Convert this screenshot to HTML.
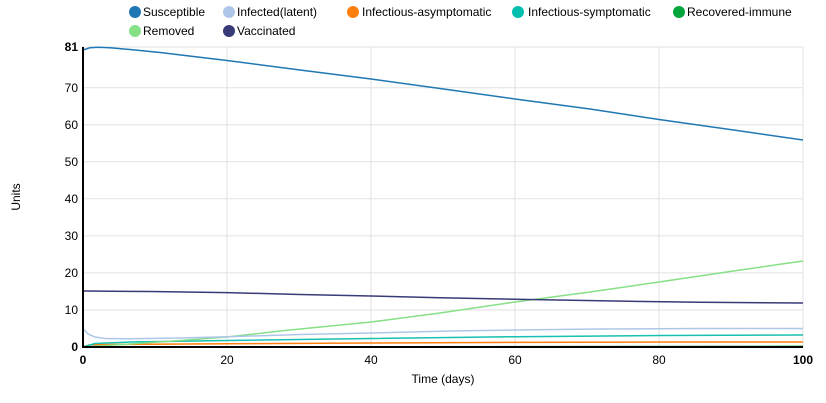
<!DOCTYPE html>
<html><head><style>body{margin:0;background:#fff}svg{display:block;font-family:"Liberation Sans",Arial,sans-serif}</style></head><body>
<svg width="826" height="403" viewBox="0 0 826 403">
<g font-size="12" fill="#000">
<circle cx="135" cy="12" r="6" fill="#1f77b4"/><text x="143" y="16">Susceptible</text>
<circle cx="229" cy="12" r="6" fill="#aec7e8"/><text x="237" y="16">Infected(latent)</text>
<circle cx="353" cy="12" r="6" fill="#ff7f0e"/><text x="362" y="16">Infectious-asymptomatic</text>
<circle cx="518" cy="12" r="6" fill="#00bfad"/><text x="528" y="16">Infectious-symptomatic</text>
<circle cx="679" cy="12" r="6" fill="#00a63c"/><text x="687" y="16">Recovered-immune</text>
<circle cx="135" cy="31" r="6" fill="#86e086"/><text x="143" y="35">Removed</text>
<circle cx="229" cy="31" r="6" fill="#393b79"/><text x="237" y="35">Vaccinated</text>
</g>
<g stroke="#e2e2e2" stroke-width="1">
<line x1="227" y1="47" x2="227" y2="347"/><line x1="371" y1="47" x2="371" y2="347"/><line x1="515" y1="47" x2="515" y2="347"/><line x1="659" y1="47" x2="659" y2="347"/><line x1="803" y1="47" x2="803" y2="347"/>
<line x1="83" y1="47" x2="803" y2="47"/>
<line x1="83" y1="87.7" x2="803" y2="87.7"/><line x1="83" y1="124.8" x2="803" y2="124.8"/><line x1="83" y1="161.8" x2="803" y2="161.8"/><line x1="83" y1="198.8" x2="803" y2="198.8"/><line x1="83" y1="235.9" x2="803" y2="235.9"/><line x1="83" y1="272.9" x2="803" y2="272.9"/><line x1="83" y1="310" x2="803" y2="310"/>
</g>
<g font-size="12" fill="#000" text-anchor="end">
<text x="78" y="51" font-weight="bold">81</text><text x="78" y="92">70</text><text x="78" y="129">60</text><text x="78" y="166">50</text><text x="78" y="203">40</text><text x="78" y="240">30</text><text x="78" y="277">20</text><text x="78" y="314">10</text><text x="78" y="351" font-weight="bold">0</text>
</g>
<g font-size="12" fill="#000" text-anchor="middle">
<text x="83" y="364" font-weight="bold">0</text><text x="227" y="364">20</text><text x="371" y="364">40</text><text x="515" y="364">60</text><text x="659" y="364">80</text><text x="803" y="364" font-weight="bold">100</text>
<text x="443" y="383">Time (days)</text>
<text transform="translate(20,197) rotate(-90)">Units</text>
</g>
<g fill="none" stroke-width="1.5">
<polyline stroke="#1fb83a" points="83,347 803,346.3"/>
<polyline stroke="#ff7f0e" points="83,347 90,344.7 110,344.5 227,343.8 371,343 515,342.4 659,342 803,342"/>
<polyline stroke="#17c0b0" points="83,347 95,343.5 130,342 227,340.5 371,338.5 515,336.7 659,335.5 803,335"/>
<polyline stroke="#86e086" points="83,347 130,344 180,340.5 227,337 280,331 371,322 440,313 515,302 590,292 659,282 730,271.5 803,261"/>
<polyline stroke="#aec7e8" points="83,328.5 88,334 95,337 105,338.5 130,338.8 180,338 227,336.8 300,334.5 371,333 450,331 515,330 600,329 700,328.5 803,328.5"/>
<polyline stroke="#393b79" points="83,291 150,291.5 227,292.6 300,294.5 371,296 440,297.8 515,299.2 600,300.8 700,302.3 803,303"/>
<polyline stroke="#1f77b4" points="83,50 90,47.7 98,47.3 110,47.8 130,49.5 160,52.5 227,60.5 300,70 371,79 440,88.5 515,99 590,109 659,119.5 730,129.5 803,140"/>
</g>
<line x1="83" y1="47" x2="83" y2="348" stroke="#000" stroke-width="2"/>
<line x1="82" y1="347" x2="803" y2="347" stroke="#000" stroke-width="2"/>
</svg>
</body></html>
